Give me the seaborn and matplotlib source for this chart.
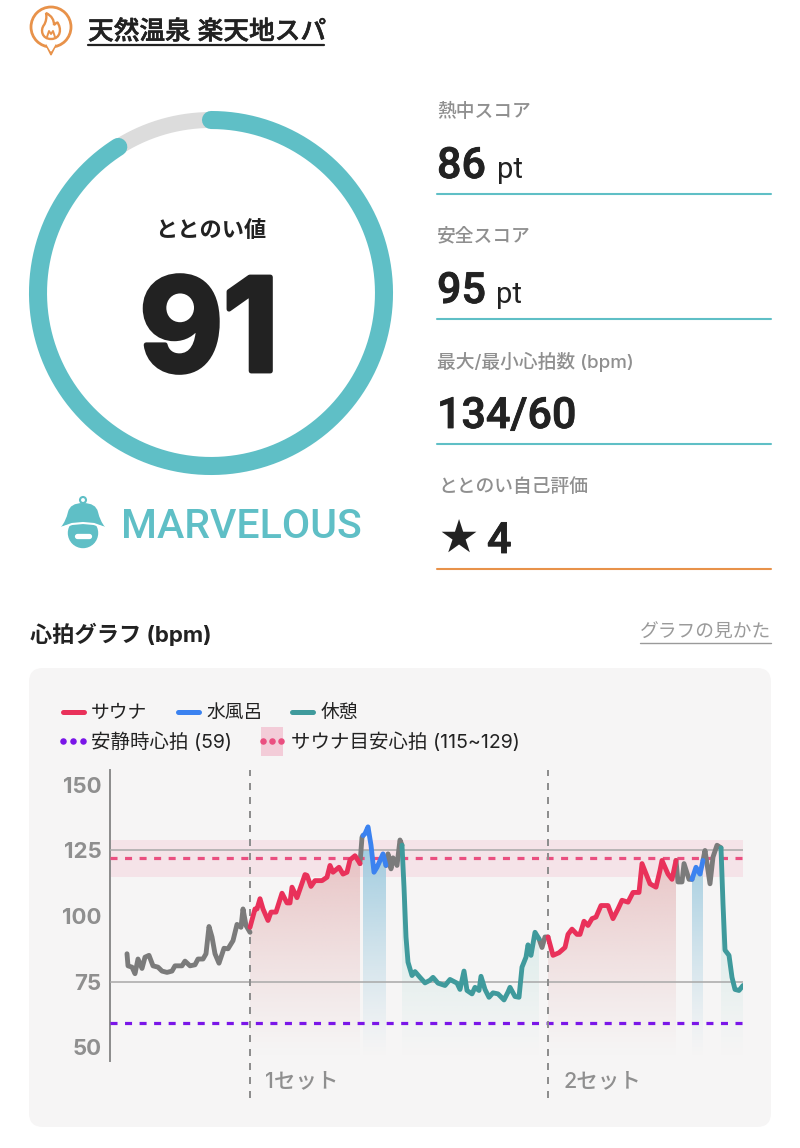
import numpy as np
import pandas as pd
import seaborn as sns
import matplotlib.pyplot as plt
from matplotlib.patches import FancyBboxPatch, PathPatch, Circle, Rectangle
from matplotlib.path import Path
import matplotlib.patheffects as pe

# Score panel
score_value = 91
score_label = "ととのい値"
rank_label = "MARVELOUS"
spa_name = "天然温泉 楽天地スパ"
stat_labels = ["熱中スコア", "安全スコア", "最大/最小心拍数 (bpm)", "ととのい自己評価"]

# Heart rate segments (time in chart units, bpm)
gray1_t = [17, 18, 22, 25, 28, 32, 35, 39, 43, 48, 52, 57, 62, 65, 72, 75, 80, 85, 88, 93, 96, 99, 102, 105, 109, 114, 118, 123, 127, 131, 133, 136, 140]
gray1_b = [85.6, 81, 80.5, 78, 83.6, 80, 84.3, 85, 81, 80.5, 79, 78.5, 79, 81, 81, 82.8, 81, 81.4, 83.6, 83.6, 85.6, 96, 92, 85.6, 82, 87.7, 87.5, 90.6, 96.8, 95.7, 102.7, 96.4, 93.8]
sauna1_t = [140, 145, 147, 150, 153, 158, 161, 166, 172, 177, 180, 182, 187, 195, 197, 201, 205, 212, 217, 220, 223, 229, 233, 237, 240, 245, 248, 250]
sauna1_b = [95.7, 102.7, 102.7, 106.6, 102.7, 98.3, 101.5, 101.5, 108.7, 105, 105, 111, 107, 115.8, 115.5, 111.3, 113.5, 113.5, 114.8, 119.3, 116.7, 118.6, 116, 116.7, 121.4, 123, 121.2, 120]
gray2_t = [250, 252, 253]
gray2_b = [120, 130, 130.7]
bath1_t = [253, 255, 258, 261, 264, 267, 273, 276]
bath1_b = [130.7, 131.4, 134, 127, 116.7, 118.6, 123.7, 119.3]
gray3_t = [276, 278, 281, 283, 287, 290, 292]
gray3_b = [119.3, 123.7, 118, 122.2, 119.3, 129, 127]
rest1_t = [292, 294, 296, 298, 302, 305, 310, 315, 320, 323, 328, 335, 340, 347, 350, 354, 357, 362, 365, 369, 371, 375, 379, 383, 388, 394, 398, 400, 405, 409, 412, 416, 418, 421, 425, 429]
rest1_b = [127, 111, 92, 82.4, 77.3, 78.8, 76.6, 74.5, 75.5, 76.6, 74.4, 73.5, 75.8, 74.4, 72, 79, 71.6, 70.3, 72.8, 71.6, 77, 72, 69, 70.7, 70.3, 68, 71, 72.8, 69.3, 69, 80.5, 84.3, 89, 85, 93.8, 91.3]
gray4_t = [429, 432, 435, 438]
gray4_b = [91.3, 88, 92, 92]
sauna2_t = [438, 443, 449, 455, 458, 462, 467, 470, 474, 478, 482, 486, 491, 498, 503, 508, 512, 518, 523, 529, 532, 540, 546, 550, 552, 558, 562, 566]
sauna2_b = [92, 85, 86, 88, 93, 95, 93, 93, 98, 96.4, 99, 99.6, 104, 104, 99, 102.7, 106, 105.3, 109, 109, 120, 112.3, 111, 117.4, 121.2, 116, 114, 121.2]
gray5_t = [566, 568, 572, 574, 579, 582]
gray5_b = [121.2, 113, 113, 120, 114, 114]
bath2_t = [582, 586, 590, 593]
bath2_b = [114, 118.6, 116, 121.2]
gray6_t = [593, 595, 600, 603, 607, 611]
gray6_b = [121.2, 125, 112.3, 122.5, 127, 126]
rest2_t = [611, 613, 615, 619, 622, 625, 629, 633]
rest2_b = [126, 104.6, 87, 85, 76.6, 72, 71.6, 73.5]

resting_hr = 59
target_low, target_high = 115, 129
target_mid = 122
set_starts = [140, 438]
set_labels = ["1セット", "2セット"]
y_ticks = [50, 75, 100, 125, 150]

TEAL = "#5fbfc6"
RED = "#e9315a"
BLUE = "#3b82f0"
REST = "#3f9a9c"
GRAY = "#7b7b7b"
PURPLE = "#7a16e8"
PINK = "#ea4f80"
TXT = "#222222"
MUTED = "#8f8f8f"
NUM_FONT = ['Roboto', 'DejaVu Sans']
NUM_STROKE = [pe.withStroke(linewidth=0.6, foreground=TXT)]

sns.set_theme(style="white")
plt.rcParams['font.family'] = ['Inter', 'Noto Sans CJK JP', 'DejaVu Sans']

fig = plt.figure(figsize=(8, 11.48), dpi=100, facecolor="white")

# Pixel overlay for the panel decorations
bg = fig.add_axes([0, 0, 1, 1])
bg.set_xlim(0, 800)
bg.set_ylim(1148, 0)
bg.axis("off")

# Title + icon
bg.add_patch(Circle((51, 27), 20, fill=False, ec="#e8924a", lw=2))
bg.fill([46, 56, 51], [45, 45, 55], color="#e8924a")
bg.fill([47, 55, 51], [44, 44, 51], color="white")
flame = Path([(51, 39), (42, 39), (40, 30), (44, 25), (46, 22), (47, 17), (46, 13), (52, 16), (54, 20), (54, 25),
              (56, 23), (57, 23), (57, 22), (62, 28), (61, 39), (51, 39)],
             [Path.MOVETO] + [Path.CURVE4] * 15)
bg.add_patch(PathPatch(flame, fill=False, ec="#e8924a", lw=1.7))
bg.plot([47, 49, 51, 53, 55], [37, 31, 34, 31, 37], color="#e8924a", lw=1.4)
bg.text(88, 32, spa_name, fontsize=18.5, color=TXT, va="center", fontweight="medium",
        path_effects=[pe.withStroke(linewidth=0.4, foreground=TXT)])
bg.plot([88, 324], [45, 45], color=TXT, lw=1.6)

# Score ring
cx, cy, r = 211, 293, 173
theta = np.radians(np.linspace(0, 360, 361))
bg.plot(cx + r * np.sin(theta), cy - r * np.cos(theta), color="#dcdcdc", lw=11.5)
theta = np.radians(np.linspace(0, 360 * score_value / 100, 300))
bg.plot(cx + r * np.sin(theta), cy - r * np.cos(theta), color=TEAL, lw=13, solid_capstyle="round")
bg.text(cx, 230, score_label, fontsize=16, color=TXT, fontweight="bold", ha="center", va="center")
bg.text(cx - 2, 371, str(score_value), fontsize=93, color=TXT, fontweight="bold", ha="center", va="baseline",
        path_effects=[pe.withStroke(linewidth=3.5, foreground=TXT)])

# Rank badge
bg.add_patch(Circle((83, 533), 14.5, color=TEAL))
dome = Path([(61, 527), (66, 521), (68, 512), (70, 503), (83, 503), (96, 503), (98, 512), (100, 521), (105, 527),
             (83, 519), (61, 527)],
            [Path.MOVETO] + [Path.CURVE3] * 10)
bg.add_patch(PathPatch(dome, color=TEAL, lw=0))
bg.add_patch(Circle((83, 500), 3, fill=False, ec=TEAL, lw=1.5))
bg.plot([61, 72, 83, 94, 105], [528, 524, 523, 524, 528], color="white", lw=1.5)
bg.plot([77, 89], [536, 536], color="white", lw=3.8, solid_capstyle="round")
bg.text(121, 538, rank_label, fontsize=29.5, color=TEAL, va="baseline", fontweight="medium", family=NUM_FONT)

# Stat column
bg.text(437, 112, stat_labels[0], fontsize=13.5, color=MUTED, va="center", fontweight="medium")
bg.text(437, 178, "86", fontsize=31, color=TXT, va="baseline", fontweight="medium", family=NUM_FONT, path_effects=NUM_STROKE)
bg.text(497, 178, "pt", fontsize=21, color=TXT, va="baseline", family=NUM_FONT)
bg.text(437, 237, stat_labels[1], fontsize=13.5, color=MUTED, va="center", fontweight="medium")
bg.text(437, 303, "95", fontsize=31, color=TXT, va="baseline", fontweight="medium", family=NUM_FONT, path_effects=NUM_STROKE)
bg.text(496, 303, "pt", fontsize=21, color=TXT, va="baseline", family=NUM_FONT)
bg.text(437, 362, stat_labels[2], fontsize=13.5, color=MUTED, va="center", fontweight="medium")
bg.text(437, 428, "134/60", fontsize=31, color=TXT, va="baseline", fontweight="medium", family=NUM_FONT, path_effects=NUM_STROKE)
bg.text(438, 487, stat_labels[3], fontsize=13.5, color=MUTED, va="center", fontweight="medium")
bg.text(437, 542, "★", fontsize=29, color=TXT, va="center")
bg.text(487, 553, "4", fontsize=31, color=TXT, va="baseline", fontweight="medium", family=NUM_FONT, path_effects=NUM_STROKE)
for y, c in [(194, TEAL), (319, TEAL), (444, TEAL), (569, "#e8924a")]:
    bg.plot([437, 771], [y, y], color=c, lw=1.5)

# Chart header + card
bg.text(30, 634, "心拍グラフ (bpm)", fontsize=16, color=TXT, fontweight="bold", va="center")
bg.text(771, 633, "グラフの見かた", fontsize=13.5, color="#9a9a9a", ha="right", va="center")
bg.plot([640, 771], [643, 643], color="#9a9a9a", lw=1)
bg.add_patch(FancyBboxPatch((29, 668), 742, 459, boxstyle="round,pad=0,rounding_size=14", fc="#f6f5f5", ec="none"))

# Legend
for x0, c, name, tx in [(60, RED, "サウナ", 91), (175, BLUE, "水風呂", 206), (289, REST, "休憩", 321)]:
    bg.plot([x0 + 2.5, x0 + 23.5], [712, 712], color=c, lw=3.6, solid_capstyle="round")
    bg.text(tx, 713, name, fontsize=13.5, color=TXT, va="center")
bg.add_patch(Rectangle((261, 727), 22, 29, fc="#f3ccd8", ec="none"))
bg.scatter([63, 73, 83], [741, 741, 741], s=22, color=PURPLE, lw=0)
bg.scatter([263, 272, 281], [741, 741, 741], s=22, color=PINK, lw=0, zorder=3)
bg.text(91, 742, "安静時心拍 (59)", fontsize=14, color=TXT, va="center")
bg.text(291, 742, "サウナ目安心拍 (115~129)", fontsize=14, color=TXT, va="center")

# Heart rate chart
ax = fig.add_axes([110 / 800, 1 - 1061 / 1148, 633 / 800, 291 / 1148])
ax.patch.set_alpha(0)
ax.set_xlim(0, 633)
ax.set_ylim(44.7, 155.7)

ax.axhspan(target_low, target_high, color="#f5e3e8", lw=0, zorder=1)


def gradient_fill(ts, bs, color):
    # area under a segment, fading out toward the bottom of the axes
    base = 46
    rgb = plt.matplotlib.colors.to_rgb(color)
    rows = np.linspace(0, 1, 128)[:, None]
    img = np.zeros((128, 1, 4))
    img[..., :3] = rgb
    img[..., 3] = rows ** 1.2
    poly = ax.fill_between(ts, bs, base, facecolor="none", lw=0)
    im = ax.imshow(img, origin="lower", aspect="auto", extent=(ts[0], ts[-1], base, 125), zorder=2)
    im.set_clip_path(poly.get_paths()[0], transform=ax.transData)


gradient_fill(sauna1_t, sauna1_b, "#e8c3c4")
gradient_fill(bath1_t, bath1_b, "#a3cde0")
gradient_fill(rest1_t, rest1_b, "#c6e5e1")
gradient_fill(sauna2_t, sauna2_b, "#e8c3c4")
gradient_fill(bath2_t, bath2_b, "#a3cde0")
gradient_fill(rest2_t, rest2_b, "#c6e5e1")
ax.set_xlim(0, 633)
ax.set_ylim(44.7, 155.7)

ax.axhline(125, color="#a8a8a8", lw=1.1, zorder=3)
ax.axhline(75, color="#a8a8a8", lw=1.1, zorder=3)
ax.axhline(target_mid, color=PINK, lw=2.3, dashes=(2.2, 2.35), zorder=4)
ax.axhline(resting_hr + 0.3, color=PURPLE, lw=2.3, dashes=(2.2, 2.35), zorder=4)
for t in set_starts:
    ax.axvline(t, ymin=-0.127, ymax=1, color="#8c8c8c", lw=1.4, dashes=(3.6, 3.6), clip_on=False, zorder=4)

segments = [(gray1_t, gray1_b, GRAY), (gray2_t, gray2_b, GRAY), (gray3_t, gray3_b, GRAY),
            (gray4_t, gray4_b, GRAY), (gray5_t, gray5_b, GRAY), (gray6_t, gray6_b, GRAY),
            (sauna1_t, sauna1_b, RED), (sauna2_t, sauna2_b, RED),
            (bath1_t, bath1_b, BLUE), (bath2_t, bath2_b, BLUE),
            (rest1_t, rest1_b, REST), (rest2_t, rest2_b, REST)]
for ts, bs, c in segments:
    df = pd.DataFrame({"t": ts, "bpm": bs})
    sns.lineplot(data=df, x="t", y="bpm", color=c, lw=3.5, estimator=None, sort=False, ax=ax, zorder=5)

ax.set_xlabel("")
ax.set_ylabel("")
ax.set_xticks([])
ax.set_yticks(y_ticks)
ax.set_yticklabels(y_ticks, fontsize=16, color=MUTED, fontweight="bold")
ax.tick_params(axis="y", length=0, pad=6)
sns.despine(ax=ax, bottom=True)
ax.spines["left"].set_color("#8c8c8c")
ax.spines["left"].set_linewidth(1.4)

for t, label in zip(set_starts, set_labels):
    ax.annotate(label, (t, 44.7), xytext=(11, -14.5), textcoords="offset points", fontsize=15.5,
                color=MUTED, va="center", fontweight="medium", annotation_clip=False)

fig.savefig("out.png", dpi=100)
